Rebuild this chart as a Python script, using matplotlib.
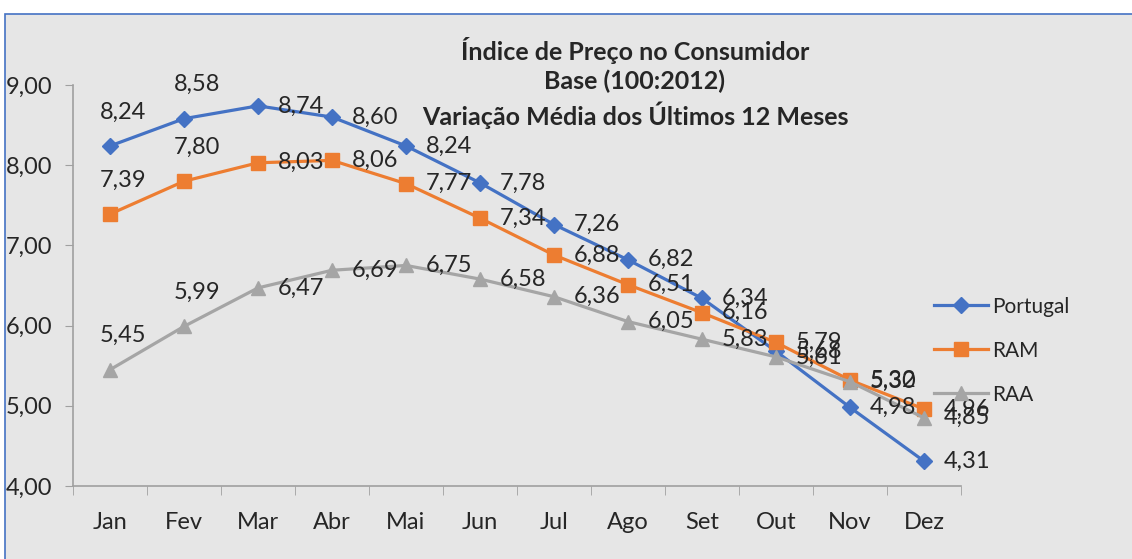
import matplotlib
matplotlib.use("Agg")
import matplotlib.pyplot as plt
from matplotlib.patches import Rectangle

plt.rcParams['font.family'] = ['Lato', 'DejaVu Sans']

meses = ["Jan", "Fev", "Mar", "Abr", "Mai", "Jun", "Jul", "Ago", "Set", "Out", "Nov", "Dez"]
portugal = [8.24, 8.58, 8.74, 8.60, 8.24, 7.78, 7.26, 6.82, 6.34, 5.68, 4.98, 4.31]
ram = [7.39, 7.80, 8.03, 8.06, 7.77, 7.34, 6.88, 6.51, 6.16, 5.79, 5.32, 4.96]
raa = [5.45, 5.99, 6.47, 6.69, 6.75, 6.58, 6.36, 6.05, 5.83, 5.61, 5.30, 4.85]
y_ticks = [4, 5, 6, 7, 8, 9]

series = [
    ("Portugal", portugal, "#4472C4", "D", 8),
    ("RAM", ram, "#ED7D31", "s", 10),
    ("RAA", raa, "#A5A5A5", "^", 10),
]

fig = plt.figure(figsize=(11.32, 5.59), dpi=100)
fig.patch.set_facecolor("white")
# chart area background with thin blue border
fig.patches.append(Rectangle((5 / 1132, -0.01), 1.0, 1 - 14 / 559 + 0.01,
                             transform=fig.transFigure, facecolor="#E6E6E6",
                             edgecolor="#4472C4", linewidth=1.2, zorder=-10))

ax = fig.add_axes([73 / 1132, 1 - 486 / 559, (961 - 73) / 1132, (486 - 85) / 559])
ax.set_facecolor("none")

x = list(range(len(meses)))
for name, vals, color, marker, ms in series:
    ax.plot(x, vals, color=color, linewidth=2.3, marker=marker, markersize=ms,
            label=name, clip_on=False)
    for i, v in enumerate(vals):
        txt = f"{v:.2f}".replace(".", ",")
        if i < 2:
            ax.annotate(txt, (i, v), xytext=(13, 34), textcoords="offset pixels",
                        ha="center", va="center", fontsize=17, color="#262626")
        else:
            ax.annotate(txt, (i, v), xytext=(20, 0), textcoords="offset pixels",
                        ha="left", va="center", fontsize=17, color="#262626")

ax.set_xlim(-0.5, len(meses) - 0.5)
ax.set_ylim(4, 9)
ax.set_yticks(y_ticks)
ax.set_yticklabels([f"{t:.2f}".replace(".", ",") for t in y_ticks], fontsize=17, color="#262626")
ax.set_xticks(x)
ax.set_xticklabels(meses, fontsize=17, color="#262626")
ax.set_xticks([i - 0.5 for i in range(len(meses) + 1)], minor=True)
ax.tick_params(axis="x", which="major", length=0, pad=19)
ax.tick_params(axis="x", which="minor", length=6.5, color="#A0A0A0")
ax.tick_params(axis="y", length=5.8, color="#A0A0A0", pad=9)
for s in ["top", "right"]:
    ax.spines[s].set_visible(False)
for s in ["left", "bottom"]:
    ax.spines[s].set_color("#A0A0A0")
    ax.spines[s].set_linewidth(1.2)

fig.text(635 / 1132, 1 - 50 / 559, "Índice de Preço no Consumidor", ha="center", va="center",
         fontsize=18, fontweight="bold", color="#262626")
fig.text(635 / 1132, 1 - 81 / 559, "Base (100:2012)", ha="center", va="center",
         fontsize=18, fontweight="bold", color="#262626")
fig.text(635 / 1132, 1 - 115 / 559, "Variação Média dos Últimos 12 Meses", ha="center", va="center",
         fontsize=18, fontweight="bold", color="#262626")

ax.legend(loc="upper left", bbox_to_anchor=(915 / 1132, 1 - 278 / 559),
          bbox_transform=fig.transFigure, frameon=False, fontsize=15,
          handlelength=2.6, labelspacing=1.15, handletextpad=0.2,
          labelcolor="#262626")

fig.savefig("out.png", dpi=100)
